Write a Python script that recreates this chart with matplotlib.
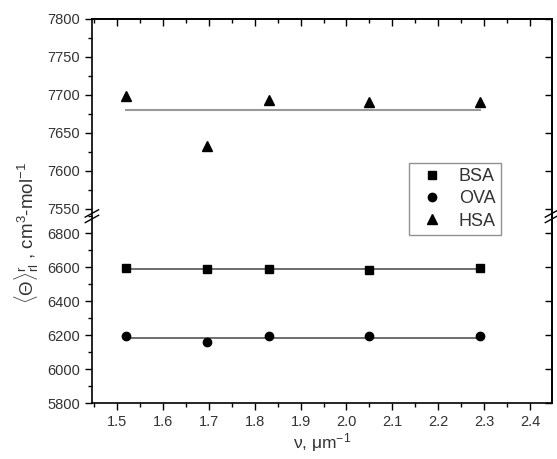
import numpy as np
import matplotlib.pyplot as plt
from matplotlib.ticker import MultipleLocator, NullFormatter

plt.rcParams['font.family'] = ['Liberation Sans', 'DejaVu Sans']
plt.rcParams['mathtext.fontset'] = 'custom'
plt.rcParams['mathtext.rm'] = 'Liberation Sans'
plt.rcParams['mathtext.it'] = 'Liberation Sans'

# wave numbers, um^-1
nu = [1.52, 1.695, 1.83, 2.05, 2.29]
bsa = [6597, 6590, 6590, 6585, 6597]
ova = [6195, 6160, 6195, 6192, 6192]
hsa = [7698, 7632, 7693, 7690, 7690]
# mean values (fit lines)
bsa_mean = 6590
ova_mean = 6185
hsa_mean = 7680

fig = plt.figure(figsize=(5.57, 4.59), dpi=100)
L, W = 0.165, 0.826
ax_lo = fig.add_axes([L, 0.122, W, 0.407])
ax_hi = fig.add_axes([L, 0.529, W, 0.430])

tc = '#333333'
for ax in (ax_lo, ax_hi):
    ax.set_xlim(1.445, 2.448)
    ax.xaxis.set_major_locator(MultipleLocator(0.1))
    ax.xaxis.set_minor_locator(MultipleLocator(0.05))
    for s in ax.spines.values():
        s.set_linewidth(1.2)
    ax.tick_params(which='both', direction='out', labelsize=10.5, colors='black',
                   labelcolor=tc, width=1.0)
    ax.tick_params(which='major', length=5)
    ax.tick_params(which='minor', length=3)

ax_lo.set_ylim(5800, 6900)
ax_lo.yaxis.set_major_locator(MultipleLocator(200))
ax_lo.yaxis.set_minor_locator(MultipleLocator(100))
ax_hi.set_ylim(7540, 7800)
ax_hi.yaxis.set_major_locator(MultipleLocator(50))
ax_hi.yaxis.set_minor_locator(MultipleLocator(25))

ax_lo.spines['top'].set_visible(False)
ax_hi.spines['bottom'].set_visible(False)
ax_hi.tick_params(axis='x', which='both', bottom=False, labelbottom=False)
ax_lo.set_xticks([1.5, 1.6, 1.7, 1.8, 1.9, 2.0, 2.1, 2.2, 2.3, 2.4])
ax_lo.set_xticklabels(['1.5', '1.6', '1.7', '1.8', '1.9', '2.0', '2.1', '2.2', '2.3', '2.4'])

# right/top ticks pointing inward
for ax in (ax_lo, ax_hi):
    r = ax.secondary_yaxis('right')
    r.tick_params(which='both', direction='in', width=1.0)
    r.tick_params(which='major', length=5)
    r.tick_params(which='minor', length=3)
    r.yaxis.set_major_formatter(NullFormatter())
    r.spines['right'].set_linewidth(1.2)
t = ax_hi.secondary_xaxis('top')
t.xaxis.set_major_locator(MultipleLocator(0.1))
t.xaxis.set_minor_locator(MultipleLocator(0.05))
t.tick_params(which='both', direction='in', width=1.0)
t.tick_params(which='major', length=5)
t.tick_params(which='minor', length=3)
t.xaxis.set_major_formatter(NullFormatter())
t.spines['top'].set_linewidth(1.2)

ax_lo.plot([nu[0], nu[-1]], [bsa_mean, bsa_mean], color='#555555', lw=1.2, zorder=1)
ax_lo.plot([nu[0], nu[-1]], [ova_mean, ova_mean], color='#555555', lw=1.2, zorder=1)
ax_hi.plot([nu[0], nu[-1]], [hsa_mean, hsa_mean], color='#999999', lw=1.5, zorder=1)

h1, = ax_lo.plot(nu, bsa, 's', color='black', ms=5.5, label='BSA')
h2, = ax_lo.plot(nu, ova, 'o', color='black', ms=6, label='OVA')
h3, = ax_hi.plot(nu, hsa, '^', color='black', ms=7, label='HSA')

# break marks
d = 0.012
for xx in (0, 1):
    for dy in (-0.006, 0.006):
        fig.add_artist(plt.Line2D([L + xx * W - d, L + xx * W + d],
                                  [0.529 + dy - 0.008, 0.529 + dy + 0.008],
                                  color='black', lw=1.0))

leg = fig.legend([h1, h2, h3], ['BSA', 'OVA', 'HSA'], loc='upper left',
                 bbox_to_anchor=(409 / 557, 1 - 163 / 459), borderaxespad=0,
                 fontsize=13, frameon=True, fancybox=False, edgecolor='#777777',
                 handletextpad=0.45, borderpad=0.3, labelspacing=0.28,
                 handlelength=2.0)
leg.get_frame().set_linewidth(1.0)
for txt in leg.get_texts():
    txt.set_color(tc)

ax_lo.set_xlabel('ν, μm$^{-1}$', fontsize=12.5, color=tc, labelpad=2)
fig.text(0.049, 0.492, r'$\langle\Theta\rangle^{\mathrm{r}}_{\mathrm{rl}}$ , cm$^3$-mol$^{-1}$',
         rotation=90, ha='center', va='center', fontsize=13.5, color=tc)

plt.savefig('out.png', dpi=100)
